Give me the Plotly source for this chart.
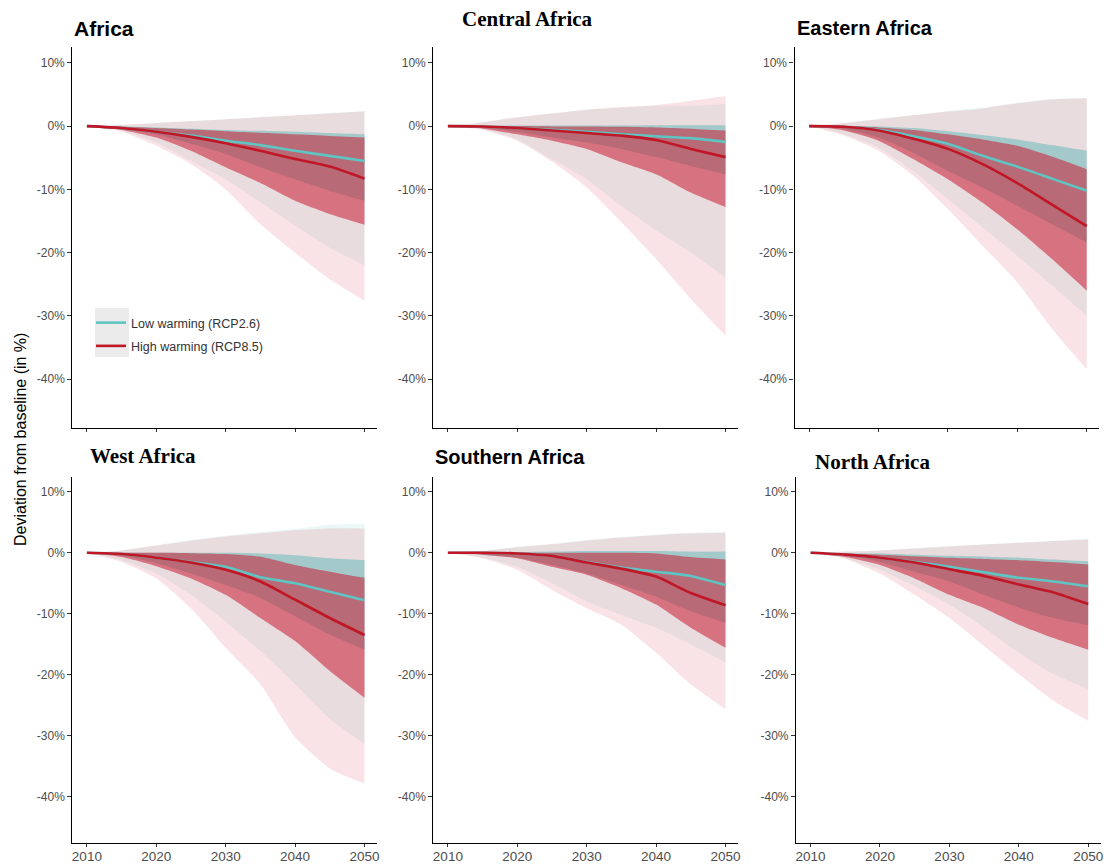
import plotly.graph_objects as go

YEARS = [2010, 2015, 2020, 2025, 2030, 2035, 2040, 2045, 2050]

# ---------------- Africa ----------------
AF_LOW_MID = [0, -0.3, -0.9, -1.5, -2.3, -3.0, -3.9, -4.7, -5.5]
AF_HIGH_MID = [0, -0.3, -0.9, -1.7, -2.7, -3.9, -5.2, -6.4, -8.3]
AF_LOW_IN_HI = [0, -0.05, -0.2, -0.4, -0.6, -0.75, -0.9, -1.1, -1.3]
AF_HIGH_IN_HI = [0, -0.1, -0.3, -0.55, -0.8, -1.05, -1.3, -1.55, -1.8]
AF_LOW_IN_LO = [0, -0.4, -1.3, -2.8, -4.4, -6.5, -8.4, -10.2, -11.8]
AF_HIGH_IN_LO = [0, -0.6, -1.8, -3.9, -6.5, -9.0, -11.8, -13.9, -15.6]
AF_LOW_OUT_LO = [0, -0.7, -2.6, -5.5, -8.4, -12.0, -15.7, -19.2, -22.0]
AF_HIGH_OUT_LO = [0, -0.9, -3.1, -6.0, -10.0, -15.5, -20.0, -24.2, -27.6]
AF_LOW_OUT_HI = [0, 0.2, 0.5, 0.8, 1.1, 1.4, 1.7, 2.1, 2.4]
AF_HIGH_OUT_HI = [0, 0.2, 0.5, 0.8, 1.1, 1.4, 1.7, 2.0, 2.3]

# ---------------- Central Africa ----------------
CA_LOW_MID = [0, -0.05, -0.3, -0.6, -0.9, -1.3, -1.6, -1.9, -2.5]
CA_HIGH_MID = [0, -0.05, -0.3, -0.7, -1.1, -1.5, -2.2, -3.6, -4.9]
CA_LOW_IN_HI = [0, 0.05, 0.1, 0.1, 0.1, 0.1, 0.15, 0.15, 0.15]
CA_HIGH_IN_HI = [0, 0, 0, -0.05, -0.05, -0.1, -0.2, -0.4, -0.7]
CA_LOW_IN_LO = [0, -0.3, -0.9, -1.8, -2.6, -3.6, -4.9, -6.3, -7.6]
CA_HIGH_IN_LO = [0, -0.4, -1.3, -2.3, -3.6, -5.7, -7.6, -10.5, -12.8]
CA_LOW_OUT_LO = [0, -0.5, -2.1, -5.2, -8.4, -12.6, -16.5, -20.0, -23.9]
CA_HIGH_OUT_LO = [0, -0.6, -2.3, -5.6, -9.7, -15.2, -21.0, -27.3, -33.1]
CA_LOW_OUT_HI = [0, 0.6, 1.4, 2.0, 2.6, 2.9, 3.2, 3.2, 3.5]
CA_HIGH_OUT_HI = [0, 0.6, 1.4, 2.0, 2.6, 3.0, 3.3, 4.0, 4.7]

# ---------------- Eastern Africa ----------------
EA_LOW_MID = [0, -0.1, -0.6, -1.6, -2.8, -4.7, -6.4, -8.3, -10.2]
EA_HIGH_MID = [0, -0.1, -0.7, -2.0, -3.6, -6.0, -9.0, -12.4, -15.8]
EA_LOW_IN_HI = [0, 0, -0.05, -0.3, -0.8, -1.4, -2.1, -3.0, -3.9]
EA_HIGH_IN_HI = [0, 0, -0.2, -0.6, -1.3, -2.1, -3.1, -4.8, -6.8]
EA_LOW_IN_LO = [0, -0.5, -1.8, -4.2, -7.1, -9.7, -12.6, -15.5, -18.4]
EA_HIGH_IN_LO = [0, -0.7, -2.3, -5.2, -8.4, -12.1, -16.3, -21.0, -26.0]
EA_LOW_OUT_LO = [0, -1.3, -3.4, -7.1, -11.5, -16.0, -20.5, -25.2, -30.0]
EA_HIGH_OUT_LO = [0, -1.5, -3.9, -7.8, -13.1, -18.9, -24.7, -32.0, -38.4]
EA_LOW_OUT_HI = [0, 0.5, 1.1, 1.7, 2.4, 2.9, 3.7, 4.3, 4.5]
EA_HIGH_OUT_HI = [0, 0.5, 1.1, 1.7, 2.3, 2.8, 3.6, 4.2, 4.4]

# ---------------- West Africa ----------------
WA_LOW_MID = [0, -0.2, -0.8, -1.5, -2.3, -4.0, -5.0, -6.4, -7.8]
WA_HIGH_MID = [0, -0.2, -0.8, -1.6, -2.8, -4.7, -7.7, -10.7, -13.5]
WA_LOW_IN_HI = [0, 0, 0, 0, 0, -0.1, -0.4, -0.9, -1.2]
WA_HIGH_IN_HI = [0, 0, 0, -0.05, -0.2, -0.65, -2.0, -3.1, -4.1]
WA_LOW_IN_LO = [0, -0.5, -1.7, -3.4, -5.3, -7.4, -10.4, -13.4, -15.9]
WA_HIGH_IN_LO = [0, -0.7, -2.2, -4.2, -6.9, -10.7, -14.5, -19.4, -23.8]
WA_LOW_OUT_LO = [0, -1.2, -3.4, -6.9, -11.3, -16.1, -21.6, -27.3, -31.4]
WA_HIGH_OUT_LO = [0, -1.5, -4.2, -9.1, -15.6, -21.6, -30.3, -35.4, -37.9]
WA_LOW_OUT_HI = [0, 0.4, 1.25, 2.1, 2.8, 3.4, 3.9, 4.6, 4.8]
WA_HIGH_OUT_HI = [0, 0.4, 1.2, 2.0, 2.7, 3.2, 3.7, 4.0, 4.0]

# ---------------- Southern Africa ----------------
SA_LOW_MID = [0, 0, -0.1, -0.5, -1.5, -2.4, -3.1, -3.8, -5.3]
SA_HIGH_MID = [0, 0, -0.1, -0.5, -1.6, -2.6, -3.9, -6.6, -8.6]
SA_LOW_IN_HI = [0, 0, 0.1, 0.2, 0.3, 0.3, 0.3, 0.2, 0.2]
SA_HIGH_IN_HI = [0, 0, 0, 0, 0, 0, -0.1, -0.7, -1.1]
SA_LOW_IN_LO = [0, -0.3, -0.8, -2.0, -3.4, -5.3, -7.2, -9.6, -11.5]
SA_HIGH_IN_LO = [0, -0.3, -0.9, -2.3, -3.6, -5.8, -8.5, -12.3, -15.6]
SA_LOW_OUT_LO = [0, -0.8, -2.3, -5.0, -8.0, -10.2, -12.3, -15.0, -18.0]
SA_HIGH_OUT_LO = [0, -0.9, -2.8, -6.1, -9.1, -11.8, -16.4, -21.6, -25.7]
SA_LOW_OUT_HI = [0, 0.3, 1.0, 1.5, 2.1, 2.6, 3.0, 3.3, 3.4]
SA_HIGH_OUT_HI = [0, 0.3, 0.9, 1.4, 2.0, 2.5, 2.9, 3.2, 3.3]

# ---------------- North Africa ----------------
NO_LOW_MID = [0, -0.3, -0.8, -1.5, -2.3, -3.2, -4.1, -4.7, -5.5]
NO_HIGH_MID = [0, -0.3, -0.8, -1.6, -2.7, -3.8, -5.2, -6.5, -8.4]
NO_LOW_IN_HI = [0, -0.05, -0.1, -0.3, -0.5, -0.65, -0.8, -1.1, -1.4]
NO_HIGH_IN_HI = [0, -0.1, -0.3, -0.55, -0.8, -1.0, -1.2, -1.5, -1.9]
NO_LOW_IN_LO = [0, -0.4, -1.5, -3.1, -4.7, -6.9, -9.0, -10.7, -11.9]
NO_HIGH_IN_LO = [0, -0.7, -2.0, -4.2, -6.9, -9.1, -11.8, -14.0, -15.9]
NO_LOW_OUT_LO = [0, -0.9, -2.8, -5.5, -8.5, -12.3, -16.4, -19.9, -22.4]
NO_HIGH_OUT_LO = [0, -1.0, -3.4, -6.9, -10.7, -15.3, -19.9, -24.3, -27.6]
NO_LOW_OUT_HI = [0, 0.2, 0.4, 0.75, 1.1, 1.4, 1.7, 2.0, 2.3]
NO_HIGH_OUT_HI = [0, 0.2, 0.4, 0.7, 1.05, 1.35, 1.65, 1.95, 2.2]

PANEL_TITLES = ["Africa", "Central Africa", "Eastern Africa",
                "West Africa", "Southern Africa", "North Africa"]
Y_TICKS = [10, 0, -10, -20, -30, -40]
Y_TICK_TEXT = ["10%", "0%", "-10%", "-20%", "-30%", "-40%"]
X_TICKS = [2010, 2020, 2030, 2040, 2050]
SERIES_NAMES = ["Low warming (RCP2.6)", "High warming (RCP8.5)"]

PANELS = [
    dict(mid=(AF_LOW_MID, AF_HIGH_MID), inner=((AF_LOW_IN_LO, AF_LOW_IN_HI), (AF_HIGH_IN_LO, AF_HIGH_IN_HI)),
         outer=((AF_LOW_OUT_LO, AF_LOW_OUT_HI), (AF_HIGH_OUT_LO, AF_HIGH_OUT_HI))),
    dict(mid=(CA_LOW_MID, CA_HIGH_MID), inner=((CA_LOW_IN_LO, CA_LOW_IN_HI), (CA_HIGH_IN_LO, CA_HIGH_IN_HI)),
         outer=((CA_LOW_OUT_LO, CA_LOW_OUT_HI), (CA_HIGH_OUT_LO, CA_HIGH_OUT_HI))),
    dict(mid=(EA_LOW_MID, EA_HIGH_MID), inner=((EA_LOW_IN_LO, EA_LOW_IN_HI), (EA_HIGH_IN_LO, EA_HIGH_IN_HI)),
         outer=((EA_LOW_OUT_LO, EA_LOW_OUT_HI), (EA_HIGH_OUT_LO, EA_HIGH_OUT_HI))),
    dict(mid=(WA_LOW_MID, WA_HIGH_MID), inner=((WA_LOW_IN_LO, WA_LOW_IN_HI), (WA_HIGH_IN_LO, WA_HIGH_IN_HI)),
         outer=((WA_LOW_OUT_LO, WA_LOW_OUT_HI), (WA_HIGH_OUT_LO, WA_HIGH_OUT_HI))),
    dict(mid=(SA_LOW_MID, SA_HIGH_MID), inner=((SA_LOW_IN_LO, SA_LOW_IN_HI), (SA_HIGH_IN_LO, SA_HIGH_IN_HI)),
         outer=((SA_LOW_OUT_LO, SA_LOW_OUT_HI), (SA_HIGH_OUT_LO, SA_HIGH_OUT_HI))),
    dict(mid=(NO_LOW_MID, NO_HIGH_MID), inner=((NO_LOW_IN_LO, NO_LOW_IN_HI), (NO_HIGH_IN_LO, NO_HIGH_IN_HI)),
         outer=((NO_LOW_OUT_LO, NO_LOW_OUT_HI), (NO_HIGH_OUT_LO, NO_HIGH_OUT_HI))),
]

# Page body margin is removed by a post script, so the figure fills the window
W, H = 1104, 864


def px(x):
    return x / W


def py(y):
    return 1 - y / H


LINE_COLORS = ["rgb(95,196,194)", "rgb(192,22,38)"]
OUTER_FILLS = ["rgba(70,180,180,0.10)", "rgba(205,35,60,0.13)"]
INNER_FILLS = ["rgba(70,175,175,0.42)", "rgba(200,30,50,0.55)"]

# plot-area pixel boxes in window pixels (left, right, top, bottom)
COL_X = [(72.3, 377.0), (433.3, 738.0), (794.5, 1099.2)]
ROW_Y = [(47.0, 428.0), (476.7, 843.3)]

fig = go.Figure()
SMOOTH = dict(shape="spline", smoothing=0.6)

for i, p in enumerate(PANELS):
    ax = "" if i == 0 else str(i + 1)
    xa, ya = "x" + ax, "y" + ax
    for kind, fills in (("outer", OUTER_FILLS), ("inner", INNER_FILLS)):
        for s in range(2):
            lo, hi = p[kind][s]
            fig.add_trace(go.Scatter(x=YEARS, y=lo, mode="lines", line=dict(width=0, **SMOOTH),
                                     xaxis=xa, yaxis=ya, showlegend=False, hoverinfo="skip"))
            fig.add_trace(go.Scatter(x=YEARS, y=hi, mode="lines", line=dict(width=0, **SMOOTH),
                                     fill="tonexty", fillcolor=fills[s],
                                     xaxis=xa, yaxis=ya, showlegend=False, hoverinfo="skip"))
    for s in range(2):
        fig.add_trace(go.Scatter(x=YEARS, y=p["mid"][s], mode="lines",
                                 line=dict(color=LINE_COLORS[s], width=2.6, **SMOOTH),
                                 xaxis=xa, yaxis=ya, name=SERIES_NAMES[s],
                                 legendgroup=SERIES_NAMES[s], showlegend=(i == 0)))

layout = dict(
    width=W, height=H, margin=dict(l=0, r=0, t=0, b=0),
    paper_bgcolor="white", plot_bgcolor="white",
    font=dict(family="Liberation Sans, Arial, sans-serif", color="#4d4d4d", size=13),
    showlegend=True,
    legend=dict(x=px(91), y=py(308), xanchor="left", yanchor="top",
                bgcolor="rgba(0,0,0,0)", font=dict(size=12.5, color="#333333"),
                tracegroupgap=4),
)

for i in range(6):
    r, c = divmod(i, 3)
    xl, xr = COL_X[c]
    yt, yb = ROW_Y[r]
    if i == 5:
        xl, xr = 796.0, 1100.7
    key = "" if i == 0 else str(i + 1)
    layout["xaxis" + key] = dict(
        domain=[px(xl), min(px(xr), 1.0)], range=[2007.9, 2051.8], anchor="y" + key,
        tickvals=X_TICKS, showticklabels=(r == 1), ticks="outside", ticklen=3,
        tickcolor="#333333", showline=True, linecolor="black", linewidth=1.2,
        showgrid=False, zeroline=False, automargin=False,
        ticklabelstandoff=-3, ticklabeloverflow="allow",
        tickfont=dict(size=13.5, color="#4d4d4d"))
    layout["yaxis" + key] = dict(
        domain=[py(yb), py(yt)], range=[-47.7, 12.5], anchor="x" + key,
        tickvals=Y_TICKS, ticktext=Y_TICK_TEXT, ticks="outside", ticklen=4,
        tickcolor="#333333", showline=True, linecolor="black", linewidth=1.2,
        showgrid=False, zeroline=False, automargin=False,
        tickfont=dict(size=12, color="#4d4d4d"))

fig.update_layout(**layout)

SANS = "Liberation Sans, Arial, sans-serif"
SERIF = "Liberation Serif, Times New Roman, serif"
title_specs = [
    (PANEL_TITLES[0], 72, 28, "left", SANS, 21),
    (PANEL_TITLES[1], 527, 19, "center", SERIF, 21),
    (PANEL_TITLES[2], 795, 28, "left", SANS, 20),
    (PANEL_TITLES[3], 88, 456, "left", SERIF, 21),
    (PANEL_TITLES[4], 433, 457, "left", SANS, 20),
    (PANEL_TITLES[5], 813, 462, "left", SERIF, 21),
]
for text, tx, ty, anchor, fam, size in title_specs:
    fig.add_annotation(text="<b>%s</b>" % text, xref="paper", yref="paper",
                       x=px(tx), y=py(ty), xanchor=anchor, yanchor="middle",
                       showarrow=False, font=dict(family=fam, size=size, color="black"))

fig.add_annotation(text="Deviation from baseline (in %)", xref="paper", yref="paper",
                   x=px(20), y=py(440), textangle=-90, xanchor="center", yanchor="middle",
                   showarrow=False, font=dict(family=SANS, size=16, color="black"))

# grey legend key background (ggplot style)
fig.add_shape(type="rect", xref="paper", yref="paper",
              x0=px(95), x1=px(129), y0=py(357), y1=py(308),
              fillcolor="#ebebeb", line=dict(width=0), layer="below")

fig.write_html(
    "out.html",
    config={"displayModeBar": False},
    post_script="document.body.style.margin='0';"
                "document.documentElement.style.overflow='hidden';"
                "document.body.style.overflow='hidden';",
)
